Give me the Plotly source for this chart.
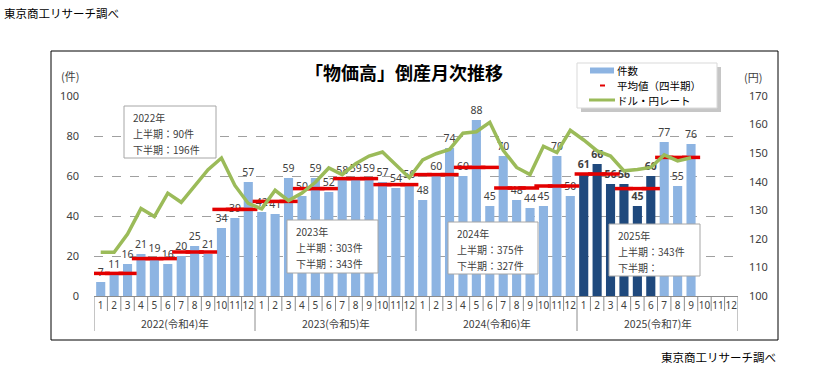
import plotly.graph_objects as go

# ---------------- data ----------------
years = ["2022(令和4)年", "2023(令和5)年", "2024(令和6)年", "2025(令和7)年"]
month_names = ["1", "2", "3", "4", "5", "6", "7", "8", "9", "10", "11", "12"]

counts_2022 = [7, 11, 16, 21, 19, 16, 20, 25, 21, 34, 39, 57]
counts_2023 = [42, 41, 59, 50, 59, 52, 58, 59, 59, 57, 54, 56]
counts_2024 = [48, 60, 74, 60, 88, 45, 70, 48, 44, 45, 70, 50]
counts_2025 = [61, 66, 56, 56, 45, 60, 77, 55, 76, None, None, None]

# quarterly average (件)
quarter_avg = [11.3, 18.7, 22.0, 43.3,
               47.3, 53.7, 58.7, 55.7,
               60.7, 64.3, 54.0, 55.0,
               61.0, 53.7, 69.3]

usdjpy_2022 = [115.3, 115.3, 121.7, 130.6, 127.8, 136.0, 132.8, 138.5, 144.2, 148.3, 138.7, 132.4]
usdjpy_2023 = [130.5, 137.0, 133.4, 136.0, 139.8, 144.8, 142.5, 146.3, 149.0, 150.4, 145.8, 141.4]
usdjpy_2024 = [147.6, 149.8, 151.3, 157.0, 157.5, 160.8, 151.0, 145.0, 142.5, 152.4, 150.2, 158.0]
usdjpy_2025 = [154.6, 150.8, 149.0, 143.8, 144.3, 145.0, 149.4, 147.3, 148.4, None, None, None]

half_year_notes = [
    ("2022年", "上半期：90件", "下半期：196件"),
    ("2023年", "上半期：303件", "下半期：343件"),
    ("2024年", "上半期：375件", "下半期：327件"),
    ("2025年", "上半期：343件", "下半期："),
]

series_names = ["件数", "平均値（四半期）", "ドル・円レート"]

# ---------------- derived ----------------
counts = counts_2022 + counts_2023 + counts_2024 + counts_2025
usdjpy = usdjpy_2022 + usdjpy_2023 + usdjpy_2024 + usdjpy_2025
month_labels = month_names * len(years)
xidx = list(range(len(counts)))
avg_monthly = [q for q in quarter_avg for _ in range(3)]

LIGHT = "#8DB4E2"
DARK = "#1F497D"
RED = "#E30000"
GREEN = "#9BBB59"
colors = []
labels = []
for i, v in enumerate(counts):
    yr, m = divmod(i, 12)
    dark = (yr == 3 and m < 6)
    colors.append(DARK if dark else LIGHT)
    if v is None:
        labels.append("")
    else:
        labels.append(f"<b>{v}</b>" if dark else str(v))

# ---------------- pixel helpers ----------------
W, H = 828, 391
PL, PR, PT, PB = 94, 738, 96, 296


def px(x):
    return (x - PL) / (PR - PL)


def py(y):
    return (PB - y) / (PB - PT)


NUMFONT = "Noto Sans, DejaVu Sans, Noto Sans CJK JP"
JPFONT = "Noto Sans CJK JP, DejaVu Sans"
TXT = "#404040"

fig = go.Figure()

fig.add_trace(go.Bar(
    x=xidx, y=counts, marker=dict(color=colors, line=dict(width=0)), width=0.68,
    text=labels, textposition="outside", constraintext="none", cliponaxis=False,
    textfont=dict(size=10.5, color=TXT, family=NUMFONT),
    name=series_names[0], showlegend=False,
))
fig.add_trace(go.Scatter(
    x=xidx[:len(avg_monthly)], y=avg_monthly, mode="markers", name=series_names[1],
    marker=dict(symbol="line-ew", size=13, color=RED, line=dict(color=RED, width=3.5)),
    showlegend=False,
))
fig.add_trace(go.Scatter(
    x=xidx, y=usdjpy, yaxis="y2", mode="lines", name=series_names[2],
    line=dict(color=GREEN, width=3.5), connectgaps=False, showlegend=False,
))

shapes = []
annotations = []


def note(x, y, text, size=11, color=TXT, xanchor="center", yanchor="middle", xref="paper"):
    annotations.append(dict(xref=xref, yref="paper", x=x, y=y, text=text, showarrow=False,
                            xanchor=xanchor, yanchor=yanchor, borderpad=0,
                            font=dict(size=size, color=color, family=JPFONT)))


# outer frame
shapes.append(dict(type="rect", xref="paper", yref="paper",
                   x0=px(51), x1=px(778), y0=py(340), y1=py(51),
                   line=dict(color="black", width=1), layer="below"))
# category separators
for i in range(len(counts) + 1):
    yb = py(331) if i % 12 == 0 else py(311)
    shapes.append(dict(type="line", xref="x", yref="paper", x0=i - 0.5, x1=i - 0.5,
                       y0=0, y1=yb, line=dict(color="#8C8C8C", width=1)))
# note boxes
box_px = [(124, 106, 216, 158), (287, 220, 378, 273), (448, 222, 538, 274), (609, 224, 700, 276)]
for (x0, y0, x1, y1), lines in zip(box_px, half_year_notes):
    shapes.append(dict(type="rect", xref="paper", yref="paper",
                       x0=px(x0), x1=px(x1), y0=py(y1), y1=py(y0),
                       fillcolor="white", line=dict(color="#A6A6A6", width=1), layer="above"))
    for k, line in enumerate(lines):
        note(px(x0 + 8), py(y0 + 11 + 16 * k), line, size=10, xanchor="left")

# legend (drawn box with shadow)
LX0, LY0, LX1, LY1 = 577, 63, 717, 108
shapes.append(dict(type="rect", xref="paper", yref="paper",
                   x0=px(LX0 + 4), x1=px(LX1 + 4), y0=py(LY1 + 4), y1=py(LY0 + 4),
                   fillcolor="#B8B8B8", line=dict(width=0), layer="above", opacity=0.8))
shapes.append(dict(type="rect", xref="paper", yref="paper",
                   x0=px(LX0), x1=px(LX1), y0=py(LY1), y1=py(LY0),
                   fillcolor="white", line=dict(color="#D9D9D9", width=1), layer="above"))
row_y = [70.5, 85.5, 100]
shapes.append(dict(type="rect", xref="paper", yref="paper",
                   x0=px(590), x1=px(614), y0=py(row_y[0] + 3), y1=py(row_y[0] - 3),
                   fillcolor=LIGHT, line=dict(width=0), layer="above"))
shapes.append(dict(type="line", xref="paper", yref="paper",
                   x0=px(600), x1=px(605), y0=py(row_y[1]), y1=py(row_y[1]),
                   line=dict(color=RED, width=2), layer="above"))
shapes.append(dict(type="line", xref="paper", yref="paper",
                   x0=px(589), x1=px(615), y0=py(row_y[2]), y1=py(row_y[2]),
                   line=dict(color=GREEN, width=3), layer="above"))
for name, ry in zip(series_names, row_y):
    note(px(616), py(ry), name, size=10.5, color="black", xanchor="left")

# year labels
for k, yname in enumerate(years):
    note(12 * k + 5.5, py(323), yname, size=10.5, xref="x")
# axis unit labels
note(px(70), py(76), "(件)")
note(px(753), py(77), "(円)")
# source notes
note(px(3), py(13), "東京商工リサーチ調べ", size=11.5, color="black", xanchor="left")
note(px(660), py(357), "東京商工リサーチ調べ", size=11.5, color="black", xanchor="left")

fig.update_layout(
    width=W, height=H, autosize=False,
    margin=dict(l=PL, r=W - PR, t=PT, b=H - PB, pad=0, autoexpand=False),
    paper_bgcolor="white", plot_bgcolor="white",
    title=dict(text="<b>「物価高」倒産月次推移</b>", x=404 / W, xanchor="center",
               y=(H - 74) / H, yanchor="middle",
               font=dict(size=18, color="black", family=JPFONT)),
    showlegend=False,
    xaxis=dict(range=[-0.5, len(counts) - 0.5], tickmode="array", tickvals=xidx, ticktext=month_labels,
               tickangle=0, automargin=False,
               showline=True, linecolor="#8C8C8C", linewidth=1, ticks="", showgrid=False, zeroline=False,
               tickfont=dict(size=10, color=TXT, family=NUMFONT)),
    yaxis=dict(range=[0, 100], tick0=0, dtick=20, showgrid=True, gridcolor="#A0A0A0", griddash="dash",
               gridwidth=1, zeroline=False, showline=False, ticks="", ticklabelstandoff=14,
               automargin=False, tickfont=dict(size=11, color=TXT, family=NUMFONT)),
    yaxis2=dict(range=[100, 170], tick0=100, dtick=10, overlaying="y", side="right", showgrid=False,
                zeroline=False, showline=False, ticks="", ticklabelstandoff=10, automargin=False,
                tickfont=dict(size=11, color=TXT, family=NUMFONT)),
    shapes=shapes, annotations=annotations,
    hovermode=False,
)

fig.write_html("out.html", config={"displayModeBar": False},
               post_script="document.body.style.margin='0';")
